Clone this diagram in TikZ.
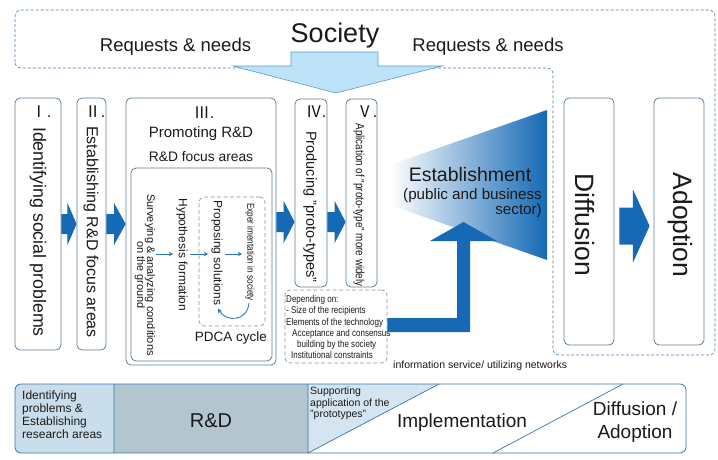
\documentclass[tikz,border=0pt]{standalone}
\usepackage{fontspec}
\setmainfont{Liberation Sans}
\newfontfamily\cjk{Noto Sans CJK JP}
\newfontfamily\cond[FakeStretch=0.82]{Liberation Sans}
\usetikzlibrary{arrows.meta,calc}
\definecolor{arrowblue}{HTML}{1569B5}
\definecolor{boxline}{HTML}{5E7E96}
\definecolor{dashblue}{HTML}{4A7FB0}
\definecolor{socfill}{HTML}{BEE3F8}
\definecolor{socline}{HTML}{5A9AD0}
\definecolor{barline}{HTML}{3A75A8}
\definecolor{segone}{HTML}{CADDEA}
\definecolor{segtwo}{HTML}{B3C5CF}
\definecolor{segthree}{HTML}{D4E5F1}
\definecolor{smallarr}{HTML}{2A78B8}
\definecolor{txt}{HTML}{1A1A1A}
\newcommand\fsz[1]{\fontsize{#1}{#1}\selectfont}
\newcommand\fatarrow[5]{%
  \path (#1) coordinate (fa) (#2) coordinate (fb) ($(fa)!#5!(fb)$) coordinate (fm);
  \fill[arrowblue] ($(fa)+(0,-#3)$) -- ($(fm)+(0,-#3)$) -- ($(fm)+(0,-#4)$) -- (fb)
    -- ($(fm)+(0,#4)$) -- ($(fm)+(0,#3)$) -- ($(fa)+(0,#3)$) -- cycle;}
\begin{document}
\begin{tikzpicture}[x=1pt,y=-1pt, text=txt,
  box/.style={draw=boxline, line width=0.8pt, rounded corners=5pt, fill=white, inner sep=0pt},
  dashbox/.style={draw=dashblue, line width=0.6pt, dash pattern=on 3pt off 2pt},
  graydash/.style={draw=boxline!80, line width=0.7pt, dash pattern=on 4pt off 2.5pt, rounded corners=5pt, inner sep=0pt},
  vtext/.style={rotate=-90, inner sep=0pt},
  num/.style={inner sep=0pt, font=\fsz{16}},
  sarr/.style={draw=smallarr, line width=0.9pt, -{Stealth[length=4.5pt,width=4.5pt]}}]
\useasboundingbox (0,0) rectangle (718,459);

% society region
\draw[dashbox, rounded corners=6pt] (15,68) -- (15,10) -- (715,10) -- (715,355) -- (553,355) -- (553,68) -- cycle;
\node[font=\fsz{27}] (soc) at (335,36) {Society};
\node[font=\fsz{18.5}] (rq1) at (175.5,47) {Requests \& needs};
\node[font=\fsz{18.5}] (rq2) at (488,47) {Requests \& needs};
\draw[fill=socfill, draw=socline, line width=0.6pt] (291,52) -- (378,52) -- (378,66) -- (442,66) -- (336,93) -- (233,66) -- (291,66) -- cycle;

% boxes
\node[box, minimum width=46pt, minimum height=252pt] (b1) at (38,224) {};
\node[box, minimum width=29pt, minimum height=252pt] (b2) at (91.5,224) {};
\node[box, minimum width=150pt, minimum height=267pt] (b3) at (201,231.5) {};
\node[box, minimum width=141pt, minimum height=193pt] (in) at (201.5,264.5) {};
\node[graydash, minimum width=66pt, minimum height=129pt] (pdca) at (232,261.5) {};
\node[box, minimum width=32pt, minimum height=188pt] (b4) at (311,193) {};
\node[box, minimum width=31pt, minimum height=188pt] (b5) at (361.5,193) {};
\node[graydash, minimum width=102pt, minimum height=73pt] (dep) at (336,326.5) {};
\node[box, minimum width=50pt, minimum height=247pt] (dif) at (589,221.5) {};
\node[box, minimum width=50pt, minimum height=247pt] (ado) at (679,221.5) {};

% numerals
\node[num] (n1) at (41,112) {{\cjk Ⅰ}.};
\node[num] (n2) at (95,112) {{\cjk Ⅱ}.};
\node[num] (n3) at (204,113) {{\cjk Ⅲ}.};
\node[num] (n4) at (316,112) {{\cjk Ⅳ}.};
\node[num] (n5) at (367,112) {{\cjk Ⅴ}.};

% box texts
\node[vtext, font=\fsz{17.8}] (t1) at (38,232) {Identifying social problems};
\node[vtext, font=\fsz{16}] (t2) at (91,232) {Establishing R\&D focus areas};
\node[font=\fsz{15}] (t3) at (201,134) {Promoting R\&D};
\node[font=\fsz{13.8}] (t3b) at (201,157) {R\&D focus areas};
\node[vtext, font=\fsz{14.5}] (t4) at (310,207) {Producing "proto-types"};
\node[vtext, font=\cond\fsz{12}] (t5) at (359,205) {Aplication of "proto-type" more widely};

% inner texts
\node[vtext, font=\fsz{11}, align=center] (sv) at (145,275) {Surveying \& analyzing conditions\\[-1pt] on the ground};
\node[vtext, font=\fsz{12}] (hy) at (182,255) {Hypothesis formation};
\node[vtext, font=\fsz{12}] (pr) at (217,253) {Proposing solutions};
\node[vtext, font=\cond\fsz{10}] (ex) at (250,252) {Exper imentation in society};
\node[font=\fsz{13.5}] (pc) at (231,338) {PDCA cycle};
\draw[sarr] ($(sv.north |- 0,254)+(1,0)$) -- ($(hy.south |- 0,254)+(-3,0)$);
\draw[sarr] ($(hy.north |- 0,254)+(2,0)$) -- ($(pr.south |- 0,254)+(-3,0)$);
\draw[sarr] ($(pr.north |- 0,254)+(2,0)$) -- ($(ex.south |- 0,254)+(-3,0)$);
\draw[sarr] ($(ex.east)+(-1,2)$) .. controls (247,322) and (226,322) .. ($(pr.east)+(1,3)$);

% depending text
\node[anchor=west, inner sep=0pt, align=left, font=\cond\fsz{9.8}, text depth=0pt] (dt) at (286,327)
 {Depending on:\\[1.3pt]
  - Size of the recipients\\[1.3pt]
  Elements of the technology\\[1.3pt]
  \hspace*{6pt}Acceptance and consensus\\[1.3pt]
  \hspace*{11pt}building by the society\\[1.3pt]
  \hspace*{5pt}Institutional constraints};

% fat arrows
\fatarrow{b1.east |- 0,224}{b2.west |- 0,224}{10}{21}{0.4}
\fatarrow{b2.east |- 0,224}{b3.west |- 0,224}{10}{21}{0.4}
\fatarrow{b3.east |- 0,222}{b4.west |- 0,222}{10}{21}{0.4}
\fatarrow{b4.east |- 0,222}{b5.west |- 0,222}{10}{21}{0.4}
\fatarrow{$(dif.east |- 0,226)+(5,0)$}{$(ado.west |- 0,226)+(-4,0)$}{18.5}{36.5}{0.45}

% establishment
\shade[left color=white, right color=arrowblue] (390,165) -- (547,110) -- (547,260) -- (390,205) -- cycle;
\node[font=\fsz{19.5}] (est) at (470,175) {Establishment};
\node[anchor=east, align=right, font=\fsz{15.2}, inner sep=0pt] (estb) at (542,203) {(public and business\\[0pt]sector)};
\fill[arrowblue] (dep.east |- 0,318) -- (457,318) -- (457,241) -- (430,241) -- (463.5,222) -- (497,241) -- (470,241) -- (470,332) -- (dep.east |- 0,332) -- cycle;
\node[anchor=west, font=\fsz{10.5}, inner sep=0pt] (info) at (393,366) {information service/ utilizing networks};

% diffusion / adoption
\node[vtext, font=\fsz{26.5}] (tdif) at (585,225) {Diffusion};
\node[vtext, font=\fsz{26.5}] (tado) at (680,225) {Adoption};

% bottom bar
\begin{scope}
\clip[rounded corners=6pt] (15,384) rectangle (686,453);
\fill[white] (15,384) rectangle (686,453);
\fill[segone] (15,384) rectangle (114,453);
\fill[segtwo] (114,384) rectangle (308,453);
\fill[segthree] (308,384) -- (439,384) -- (308,453) -- cycle;
\end{scope}
\draw[barline, line width=0.7pt] (114,384) -- (114,453) (308,384) -- (308,453) (439,384) -- (308,453) (623,384) -- (493,453);
\draw[barline, line width=0.8pt, rounded corners=6pt] (15,384) rectangle (686,453);
\node[anchor=north west, align=left, font=\fsz{12}, inner sep=0pt] (s1) at (22,391) {Identifying\\[1pt]problems \&\\[1pt]Establishing\\[1pt]research areas};
\node[font=\fsz{20}] (s2) at (211,421) {R\&D};
\node[anchor=north west, align=left, font=\fsz{10.5}, inner sep=0pt] (s3) at (310,387) {Supporting\\[1pt]application of the\\[1pt]"prototypes"};
\node[font=\fsz{19}] (s4) at (462,423) {Implementation};
\node[align=center, font=\fsz{19}] (s5) at (635,422) {Diffusion /\\[4pt]Adoption};
\end{tikzpicture}
\end{document}
